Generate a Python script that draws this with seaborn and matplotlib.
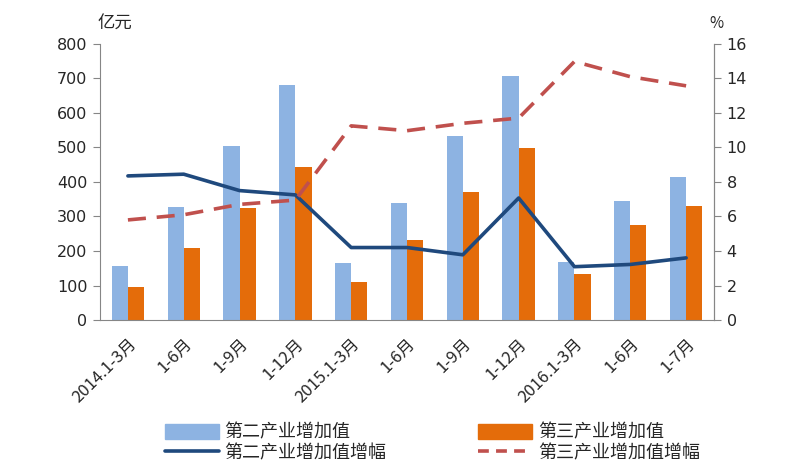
import numpy as np
import pandas as pd
import matplotlib
matplotlib.use("Agg")
import matplotlib.pyplot as plt
import seaborn as sns
from matplotlib.patches import Patch
from matplotlib.lines import Line2D

# data
periods = ["2014.1-3月", "1-6月", "1-9月", "1-12月", "2015.1-3月", "1-6月",
           "1-9月", "1-12月", "2016.1-3月", "1-6月", "1-7月"]
secondary_value = [157, 328, 505, 682, 165, 340, 532, 706, 168, 346, 413]
tertiary_value = [95, 209, 325, 444, 110, 232, 372, 497, 134, 276, 330]
secondary_growth = [8.35, 8.45, 7.5, 7.25, 4.2, 4.2, 3.78, 7.07, 3.09, 3.22, 3.6]
tertiary_growth = [5.8, 6.1, 6.7, 6.95, 11.25, 10.97, 11.4, 11.7, 14.98, 14.1, 13.57]

sec_name = "第二产业增加值"
ter_name = "第三产业增加值"
bar_colors = ["#8DB3E2", "#E46C0A"]
line_blue = "#1F497D"
line_red = "#C0504D"

sns.set_style("white")
plt.rcParams['font.family'] = ['Noto Sans CJK SC', 'DejaVu Sans']

n = len(periods)
df = pd.DataFrame({
    "idx": list(range(n)) * 2,
    "value": secondary_value + tertiary_value,
    "series": [sec_name] * n + [ter_name] * n,
})

fig = plt.figure(figsize=(8.02, 4.72), dpi=100)
ax = fig.add_axes([0.1247, 0.322, 0.7656, 0.585])

sns.barplot(data=df, x="idx", y="value", hue="series", palette=bar_colors,
            width=0.58, saturation=1, linewidth=0, gap=0, ax=ax, legend=False)

ax2 = ax.twinx()
xs = np.arange(n)
sns.lineplot(x=xs, y=secondary_growth, color=line_blue, linewidth=2.6, ax=ax2)
sns.lineplot(x=xs, y=tertiary_growth, color=line_red, linewidth=2.6, ax=ax2)
ax2.lines[1].set_dashes([5, 3])

ax.set_xlim(-0.5, n - 0.5)
ax.set_ylim(0, 800)
ax2.set_ylim(0, 16)
ax.set_yticks(range(0, 801, 100))
ax2.set_yticks(range(0, 17, 2))

# excel-style ticks at category boundaries, labels at centres
ax.set_xticks(np.arange(-0.5, n, 1))
ax.set_xticklabels([])
ax.set_xticks(xs, minor=True)
ax.set_xticklabels(periods, minor=True, rotation=45, ha="right",
                   rotation_mode="anchor", fontsize=12)
ax.tick_params(axis="x", which="major", length=5, color="#868686", direction="out")
ax.tick_params(axis="x", which="minor", length=0, pad=11)
ax.tick_params(axis="y", length=5, color="#868686", direction="out", pad=4)
ax2.tick_params(axis="y", length=5, color="#868686", direction="out", pad=4)
for lab in ax.get_yticklabels() + ax2.get_yticklabels():
    lab.set_family("DejaVu Sans")
    lab.set_fontsize(11.5)

ax.set_xlabel("")
ax.set_ylabel("")
ax2.set_ylabel("")
for a in (ax, ax2):
    a.spines["top"].set_visible(False)
    for s in ("left", "right", "bottom"):
        a.spines[s].set_color("#868686")
ax2.spines["left"].set_visible(False)
ax2.spines["bottom"].set_visible(False)

fig.text(0.121, 0.94, "亿元", fontsize=12.5)
fig.text(0.884, 0.94, "%", fontsize=11)

handles = [
    Patch(color=bar_colors[0]),
    Line2D([], [], color=line_blue, linewidth=2.6),
    Patch(color=bar_colors[1]),
    Line2D([], [], color=line_red, linewidth=2.6, dashes=[3, 2]),
]
labels = [sec_name, sec_name + "增幅", ter_name, ter_name + "增幅"]
fig.legend(handles, labels, ncol=2, loc="lower left",
           bbox_to_anchor=(0.185, -0.014), frameon=False, fontsize=13,
           handlelength=3.0, handleheight=0.9, columnspacing=5.1,
           labelspacing=0.14, handletextpad=0.3)

fig.savefig("out.png", dpi=100)
